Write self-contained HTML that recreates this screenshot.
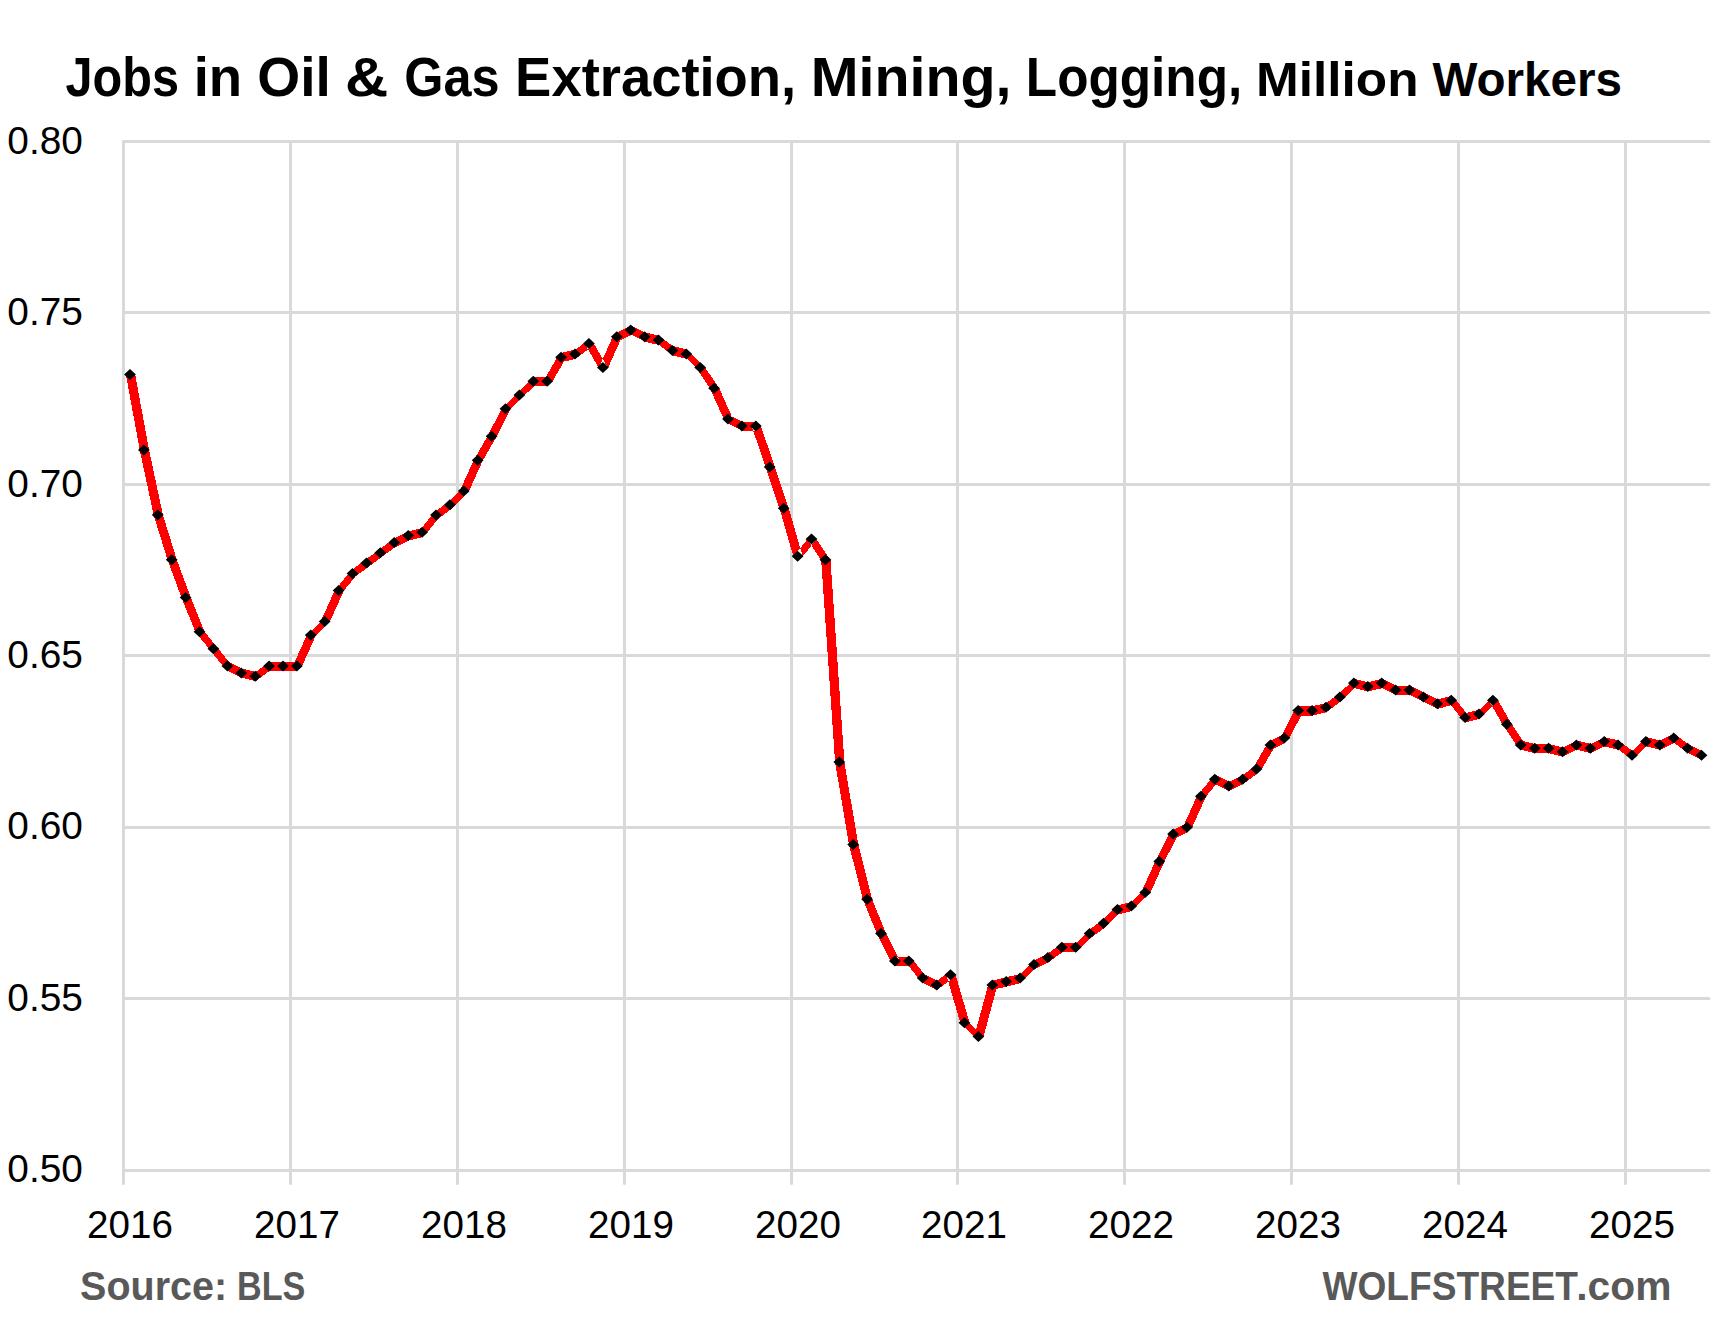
<!DOCTYPE html>
<html lang="en"><head><meta charset="utf-8"><title>Jobs in Oil &amp; Gas Extraction, Mining, Logging</title>
<style>
html,body{margin:0;padding:0;background:#fff;}
body{width:1720px;height:1335px;overflow:hidden;font-family:"Liberation Sans",sans-serif;}
svg{display:block;}
text{font-family:"Liberation Sans",sans-serif;}
.b{font-weight:bold;}
</style></head><body>
<svg width="1720" height="1335" viewBox="0 0 1720 1335">
<rect width="1720" height="1335" fill="#fff"/>
<g stroke="#d9d9d9" stroke-width="3" stroke-linecap="round" fill="none">
<line x1="123.5" y1="141.5" x2="1709" y2="141.5"/>
<line x1="123.5" y1="312.5" x2="1709" y2="312.5"/>
<line x1="123.5" y1="484.5" x2="1709" y2="484.5"/>
<line x1="123.5" y1="655.5" x2="1709" y2="655.5"/>
<line x1="123.5" y1="827.5" x2="1709" y2="827.5"/>
<line x1="123.5" y1="998.5" x2="1709" y2="998.5"/>
<line x1="123.5" y1="1170.5" x2="1709" y2="1170.5"/>
<line x1="123.5" y1="141.5" x2="123.5" y2="1183.5"/>
<line x1="290.5" y1="141.5" x2="290.5" y2="1183.5"/>
<line x1="457.5" y1="141.5" x2="457.5" y2="1183.5"/>
<line x1="624.5" y1="141.5" x2="624.5" y2="1183.5"/>
<line x1="791.5" y1="141.5" x2="791.5" y2="1183.5"/>
<line x1="957.5" y1="141.5" x2="957.5" y2="1183.5"/>
<line x1="1124.5" y1="141.5" x2="1124.5" y2="1183.5"/>
<line x1="1291.5" y1="141.5" x2="1291.5" y2="1183.5"/>
<line x1="1458.5" y1="141.5" x2="1458.5" y2="1183.5"/>
<line x1="1625.5" y1="141.5" x2="1625.5" y2="1183.5"/>
</g>
<path transform="translate(0.5,0.3)" d="M125.4,374.4L139.3,449.9L148.6,449.9L134.7,374.4ZM139.3,449.9L153.2,515.1L162.5,515.1L148.6,449.9ZM153.2,515.1L167.1,559.7L176.4,559.7L162.5,515.1ZM167.1,559.7L181.0,597.4L190.3,597.4L176.4,559.7ZM181.0,597.4L194.9,631.7L204.2,631.7L190.3,597.4ZM194.9,631.7L208.8,648.8L218.1,648.8L204.2,631.7ZM208.8,648.8L222.7,666.0L232.0,666.0L218.1,648.8ZM227.4,661.3L241.3,668.2L241.3,677.5L227.4,670.6ZM241.3,668.2L255.2,671.6L255.2,680.9L241.3,677.5ZM255.2,671.6L269.1,661.3L269.1,670.6L255.2,680.9ZM269.1,661.3L283.0,661.3L283.0,670.6L269.1,670.6ZM283.0,661.3L296.9,661.3L296.9,670.6L283.0,670.6ZM292.2,666.0L306.2,635.1L315.4,635.1L301.5,666.0ZM310.8,630.5L324.7,616.8L324.7,626.1L310.8,639.8ZM320.1,621.4L334.0,590.5L343.3,590.5L329.4,621.4ZM334.0,590.5L347.9,573.4L357.2,573.4L343.3,590.5ZM352.5,568.7L366.4,558.4L366.4,567.7L352.5,578.0ZM366.4,558.4L380.3,548.1L380.3,557.4L366.4,567.7ZM380.3,548.1L394.2,537.9L394.2,547.2L380.3,557.4ZM394.2,537.9L408.2,531.0L408.2,540.3L394.2,547.2ZM408.2,531.0L422.1,527.6L422.1,536.9L408.2,540.3ZM417.4,532.2L431.3,515.1L440.6,515.1L426.7,532.2ZM436.0,510.4L449.9,500.1L449.9,509.4L436.0,519.7ZM449.9,500.1L463.8,486.4L463.8,495.7L449.9,509.4ZM459.1,491.1L473.0,460.2L482.3,460.2L468.4,491.1ZM473.0,460.2L486.9,436.2L496.2,436.2L482.3,460.2ZM486.9,436.2L500.9,408.7L510.2,408.7L496.2,436.2ZM505.5,404.1L519.4,390.4L519.4,399.7L505.5,413.4ZM519.4,390.4L533.3,376.7L533.3,386.0L519.4,399.7ZM533.3,376.7L547.2,376.7L547.2,386.0L533.3,386.0ZM542.6,381.3L556.5,357.3L565.8,357.3L551.9,381.3ZM561.1,352.6L575.0,349.2L575.0,358.5L561.1,361.9ZM575.0,349.2L588.9,338.9L588.9,348.2L575.0,358.5ZM584.3,343.6L598.2,367.6L607.5,367.6L593.6,343.6ZM598.2,367.6L612.1,336.7L621.4,336.7L607.5,367.6ZM616.8,332.1L630.7,325.2L630.7,334.5L616.8,341.4ZM630.7,325.2L644.6,332.1L644.6,341.4L630.7,334.5ZM644.6,332.1L658.5,335.5L658.5,344.8L644.6,341.4ZM658.5,335.5L672.4,345.8L672.4,355.1L658.5,344.8ZM672.4,345.8L686.3,349.2L686.3,358.5L672.4,355.1ZM686.3,349.2L700.2,362.9L700.2,372.2L686.3,358.5ZM695.6,367.6L709.5,388.2L718.8,388.2L704.9,367.6ZM709.5,388.2L723.4,419.0L732.7,419.0L718.8,388.2ZM728.0,414.4L741.9,421.2L741.9,430.5L728.0,423.7ZM741.9,421.2L755.8,421.2L755.8,430.5L741.9,430.5ZM751.2,425.9L765.1,467.1L774.4,467.1L760.5,425.9ZM765.1,467.1L779.0,508.2L788.3,508.2L774.4,467.1ZM779.0,508.2L792.9,556.2L802.2,556.2L788.3,508.2ZM792.9,556.2L806.8,539.1L816.1,539.1L802.2,556.2ZM806.8,539.1L820.7,559.7L830.0,559.7L816.1,539.1ZM820.7,559.7L834.6,762.0L843.9,762.0L830.0,559.7ZM834.6,762.0L848.5,844.4L857.8,844.4L843.9,762.0ZM848.5,844.4L862.4,899.2L871.7,899.2L857.8,844.4ZM862.4,899.2L876.4,933.5L885.7,933.5L871.7,899.2ZM876.4,933.5L890.3,961.0L899.6,961.0L885.7,933.5ZM894.9,956.3L908.8,956.3L908.8,965.6L894.9,965.6ZM904.2,961.0L918.1,978.1L927.4,978.1L913.5,961.0ZM922.7,973.5L936.6,980.3L936.6,989.6L922.7,982.8ZM936.6,980.3L950.5,970.0L950.5,979.3L936.6,989.6ZM945.9,974.7L959.8,1022.7L969.1,1022.7L955.2,974.7ZM964.4,1018.1L978.4,1031.8L978.4,1041.1L964.4,1027.4ZM973.7,1036.4L987.6,985.0L996.9,985.0L983.0,1036.4ZM992.3,980.3L1006.2,976.9L1006.2,986.2L992.3,989.6ZM1006.2,976.9L1020.1,973.5L1020.1,982.8L1006.2,986.2ZM1020.1,973.5L1034.0,959.7L1034.0,969.0L1020.1,982.8ZM1034.0,959.7L1047.9,952.9L1047.9,962.2L1034.0,969.0ZM1047.9,952.9L1061.8,942.6L1061.8,951.9L1047.9,962.2ZM1061.8,942.6L1075.7,942.6L1075.7,951.9L1061.8,951.9ZM1075.7,942.6L1089.6,928.9L1089.6,938.2L1075.7,951.9ZM1089.6,928.9L1103.5,918.6L1103.5,927.9L1089.6,938.2ZM1103.5,918.6L1117.4,904.9L1117.4,914.2L1103.5,927.9ZM1117.4,904.9L1131.3,901.4L1131.3,910.7L1117.4,914.2ZM1131.3,901.4L1145.2,887.7L1145.2,897.0L1131.3,910.7ZM1140.6,892.4L1154.5,861.5L1163.8,861.5L1149.9,892.4ZM1154.5,861.5L1168.4,834.1L1177.7,834.1L1163.8,861.5ZM1173.1,829.4L1187.0,822.6L1187.0,831.9L1173.1,838.7ZM1182.3,827.2L1196.2,796.3L1205.5,796.3L1191.6,827.2ZM1196.2,796.3L1210.1,779.2L1219.4,779.2L1205.5,796.3ZM1214.8,774.5L1228.7,781.4L1228.7,790.7L1214.8,783.8ZM1228.7,781.4L1242.6,774.5L1242.6,783.8L1228.7,790.7ZM1242.6,774.5L1256.5,764.2L1256.5,773.5L1242.6,783.8ZM1251.9,768.9L1265.8,744.9L1275.1,744.9L1261.2,768.9ZM1270.4,740.2L1284.3,733.4L1284.3,742.7L1270.4,749.5ZM1279.7,738.0L1293.6,710.6L1302.9,710.6L1289.0,738.0ZM1298.2,705.9L1312.1,705.9L1312.1,715.2L1298.2,715.2ZM1312.1,705.9L1326.0,702.5L1326.0,711.8L1312.1,715.2ZM1326.0,702.5L1339.9,692.2L1339.9,701.5L1326.0,711.8ZM1339.9,692.2L1353.9,678.5L1353.9,687.8L1339.9,701.5ZM1353.9,678.5L1367.8,681.9L1367.8,691.2L1353.9,687.8ZM1367.8,681.9L1381.7,678.5L1381.7,687.8L1367.8,691.2ZM1381.7,678.5L1395.6,685.4L1395.6,694.7L1381.7,687.8ZM1395.6,685.4L1409.5,685.4L1409.5,694.7L1395.6,694.7ZM1409.5,685.4L1423.4,692.2L1423.4,701.5L1409.5,694.7ZM1423.4,692.2L1437.3,699.1L1437.3,708.4L1423.4,701.5ZM1437.3,699.1L1451.2,695.6L1451.2,704.9L1437.3,708.4ZM1446.6,700.3L1460.5,717.4L1469.8,717.4L1455.9,700.3ZM1465.1,712.8L1479.0,709.4L1479.0,718.7L1465.1,722.1ZM1479.0,709.4L1492.9,695.6L1492.9,704.9L1479.0,718.7ZM1488.3,700.3L1502.2,724.3L1511.5,724.3L1497.6,700.3ZM1502.2,724.3L1516.1,744.9L1525.4,744.9L1511.5,724.3ZM1520.7,740.2L1534.7,743.7L1534.7,753.0L1520.7,749.5ZM1534.7,743.7L1548.6,743.7L1548.6,753.0L1534.7,753.0ZM1548.6,743.7L1562.5,747.1L1562.5,756.4L1548.6,753.0ZM1562.5,747.1L1576.4,740.2L1576.4,749.5L1562.5,756.4ZM1576.4,740.2L1590.3,743.7L1590.3,753.0L1576.4,749.5ZM1590.3,743.7L1604.2,736.8L1604.2,746.1L1590.3,753.0ZM1604.2,736.8L1618.1,740.2L1618.1,749.5L1604.2,746.1ZM1618.1,740.2L1632.0,750.5L1632.0,759.8L1618.1,749.5ZM1632.0,750.5L1645.9,736.8L1645.9,746.1L1632.0,759.8ZM1645.9,736.8L1659.8,740.2L1659.8,749.5L1645.9,746.1ZM1659.8,740.2L1673.7,733.4L1673.7,742.7L1659.8,749.5ZM1673.7,733.4L1687.6,743.7L1687.6,753.0L1673.7,742.7ZM1687.6,743.7L1701.5,750.5L1701.5,759.8L1687.6,753.0Z" fill="#ff0000" shape-rendering="crispEdges"/>
<path d="M124.1,374.4L130.0,368.9L135.9,374.4L130.0,379.9ZM138.0,449.9L143.9,444.4L149.8,449.9L143.9,455.4ZM151.9,515.1L157.8,509.6L163.7,515.1L157.8,520.6ZM165.8,559.7L171.7,554.2L177.6,559.7L171.7,565.2ZM179.7,597.4L185.6,591.9L191.5,597.4L185.6,602.9ZM193.6,631.7L199.5,626.2L205.4,631.7L199.5,637.2ZM207.5,648.8L213.4,643.3L219.3,648.8L213.4,654.3ZM221.5,666.0L227.4,660.5L233.3,666.0L227.4,671.5ZM235.4,672.9L241.3,667.4L247.2,672.9L241.3,678.4ZM249.3,676.3L255.2,670.8L261.1,676.3L255.2,681.8ZM263.2,666.0L269.1,660.5L275.0,666.0L269.1,671.5ZM277.1,666.0L283.0,660.5L288.9,666.0L283.0,671.5ZM291.0,666.0L296.9,660.5L302.8,666.0L296.9,671.5ZM304.9,635.1L310.8,629.6L316.7,635.1L310.8,640.6ZM318.8,621.4L324.7,615.9L330.6,621.4L324.7,626.9ZM332.7,590.5L338.6,585.0L344.5,590.5L338.6,596.0ZM346.6,573.4L352.5,567.9L358.4,573.4L352.5,578.9ZM360.5,563.1L366.4,557.6L372.3,563.1L366.4,568.6ZM374.4,552.8L380.3,547.3L386.2,552.8L380.3,558.3ZM388.3,542.5L394.2,537.0L400.1,542.5L394.2,548.0ZM402.3,535.6L408.2,530.1L414.1,535.6L408.2,541.1ZM416.2,532.2L422.1,526.7L428.0,532.2L422.1,537.7ZM430.1,515.1L436.0,509.6L441.9,515.1L436.0,520.6ZM444.0,504.8L449.9,499.3L455.8,504.8L449.9,510.3ZM457.9,491.1L463.8,485.6L469.7,491.1L463.8,496.6ZM471.8,460.2L477.7,454.7L483.6,460.2L477.7,465.7ZM485.7,436.2L491.6,430.7L497.5,436.2L491.6,441.7ZM499.6,408.7L505.5,403.2L511.4,408.7L505.5,414.2ZM513.5,395.0L519.4,389.5L525.3,395.0L519.4,400.5ZM527.4,381.3L533.3,375.8L539.2,381.3L533.3,386.8ZM541.3,381.3L547.2,375.8L553.1,381.3L547.2,386.8ZM555.2,357.3L561.1,351.8L567.0,357.3L561.1,362.8ZM569.1,353.9L575.0,348.4L580.9,353.9L575.0,359.4ZM583.0,343.6L588.9,338.1L594.8,343.6L588.9,349.1ZM597.0,367.6L602.9,362.1L608.8,367.6L602.9,373.1ZM610.9,336.7L616.8,331.2L622.7,336.7L616.8,342.2ZM624.8,329.9L630.7,324.4L636.6,329.9L630.7,335.4ZM638.7,336.7L644.6,331.2L650.5,336.7L644.6,342.2ZM652.6,340.1L658.5,334.6L664.4,340.1L658.5,345.6ZM666.5,350.4L672.4,344.9L678.3,350.4L672.4,355.9ZM680.4,353.9L686.3,348.4L692.2,353.9L686.3,359.4ZM694.3,367.6L700.2,362.1L706.1,367.6L700.2,373.1ZM708.2,388.2L714.1,382.7L720.0,388.2L714.1,393.7ZM722.1,419.0L728.0,413.5L733.9,419.0L728.0,424.5ZM736.0,425.9L741.9,420.4L747.8,425.9L741.9,431.4ZM749.9,425.9L755.8,420.4L761.7,425.9L755.8,431.4ZM763.8,467.1L769.7,461.6L775.6,467.1L769.7,472.6ZM777.8,508.2L783.7,502.7L789.6,508.2L783.7,513.7ZM791.7,556.2L797.6,550.7L803.5,556.2L797.6,561.7ZM805.6,539.1L811.5,533.6L817.4,539.1L811.5,544.6ZM819.5,559.7L825.4,554.2L831.3,559.7L825.4,565.2ZM833.4,762.0L839.3,756.5L845.2,762.0L839.3,767.5ZM847.3,844.4L853.2,838.9L859.1,844.4L853.2,849.9ZM861.2,899.2L867.1,893.7L873.0,899.2L867.1,904.7ZM875.1,933.5L881.0,928.0L886.9,933.5L881.0,939.0ZM889.0,961.0L894.9,955.5L900.8,961.0L894.9,966.5ZM902.9,961.0L908.8,955.5L914.7,961.0L908.8,966.5ZM916.8,978.1L922.7,972.6L928.6,978.1L922.7,983.6ZM930.7,985.0L936.6,979.5L942.5,985.0L936.6,990.5ZM944.6,974.7L950.5,969.2L956.4,974.7L950.5,980.2ZM958.5,1022.7L964.4,1017.2L970.3,1022.7L964.4,1028.2ZM972.5,1036.4L978.4,1030.9L984.3,1036.4L978.4,1041.9ZM986.4,985.0L992.3,979.5L998.2,985.0L992.3,990.5ZM1000.3,981.5L1006.2,976.0L1012.1,981.5L1006.2,987.0ZM1014.2,978.1L1020.1,972.6L1026.0,978.1L1020.1,983.6ZM1028.1,964.4L1034.0,958.9L1039.9,964.4L1034.0,969.9ZM1042.0,957.5L1047.9,952.0L1053.8,957.5L1047.9,963.0ZM1055.9,947.3L1061.8,941.8L1067.7,947.3L1061.8,952.8ZM1069.8,947.3L1075.7,941.8L1081.6,947.3L1075.7,952.8ZM1083.7,933.5L1089.6,928.0L1095.5,933.5L1089.6,939.0ZM1097.6,923.2L1103.5,917.7L1109.4,923.2L1103.5,928.7ZM1111.5,909.5L1117.4,904.0L1123.3,909.5L1117.4,915.0ZM1125.4,906.1L1131.3,900.6L1137.2,906.1L1131.3,911.6ZM1139.3,892.4L1145.2,886.9L1151.1,892.4L1145.2,897.9ZM1153.3,861.5L1159.2,856.0L1165.1,861.5L1159.2,867.0ZM1167.2,834.1L1173.1,828.6L1179.0,834.1L1173.1,839.6ZM1181.1,827.2L1187.0,821.7L1192.9,827.2L1187.0,832.7ZM1195.0,796.3L1200.9,790.8L1206.8,796.3L1200.9,801.8ZM1208.9,779.2L1214.8,773.7L1220.7,779.2L1214.8,784.7ZM1222.8,786.0L1228.7,780.5L1234.6,786.0L1228.7,791.5ZM1236.7,779.2L1242.6,773.7L1248.5,779.2L1242.6,784.7ZM1250.6,768.9L1256.5,763.4L1262.4,768.9L1256.5,774.4ZM1264.5,744.9L1270.4,739.4L1276.3,744.9L1270.4,750.4ZM1278.4,738.0L1284.3,732.5L1290.2,738.0L1284.3,743.5ZM1292.3,710.6L1298.2,705.1L1304.1,710.6L1298.2,716.1ZM1306.2,710.6L1312.1,705.1L1318.0,710.6L1312.1,716.1ZM1320.1,707.2L1326.0,701.7L1331.9,707.2L1326.0,712.7ZM1334.0,696.9L1339.9,691.4L1345.8,696.9L1339.9,702.4ZM1348.0,683.1L1353.9,677.6L1359.8,683.1L1353.9,688.6ZM1361.9,686.6L1367.8,681.1L1373.7,686.6L1367.8,692.1ZM1375.8,683.1L1381.7,677.6L1387.6,683.1L1381.7,688.6ZM1389.7,690.0L1395.6,684.5L1401.5,690.0L1395.6,695.5ZM1403.6,690.0L1409.5,684.5L1415.4,690.0L1409.5,695.5ZM1417.5,696.9L1423.4,691.4L1429.3,696.9L1423.4,702.4ZM1431.4,703.7L1437.3,698.2L1443.2,703.7L1437.3,709.2ZM1445.3,700.3L1451.2,694.8L1457.1,700.3L1451.2,705.8ZM1459.2,717.4L1465.1,711.9L1471.0,717.4L1465.1,722.9ZM1473.1,714.0L1479.0,708.5L1484.9,714.0L1479.0,719.5ZM1487.0,700.3L1492.9,694.8L1498.8,700.3L1492.9,705.8ZM1500.9,724.3L1506.8,718.8L1512.7,724.3L1506.8,729.8ZM1514.8,744.9L1520.7,739.4L1526.6,744.9L1520.7,750.4ZM1528.8,748.3L1534.7,742.8L1540.6,748.3L1534.7,753.8ZM1542.7,748.3L1548.6,742.8L1554.5,748.3L1548.6,753.8ZM1556.6,751.7L1562.5,746.2L1568.4,751.7L1562.5,757.2ZM1570.5,744.9L1576.4,739.4L1582.3,744.9L1576.4,750.4ZM1584.4,748.3L1590.3,742.8L1596.2,748.3L1590.3,753.8ZM1598.3,741.5L1604.2,736.0L1610.1,741.5L1604.2,747.0ZM1612.2,744.9L1618.1,739.4L1624.0,744.9L1618.1,750.4ZM1626.1,755.2L1632.0,749.7L1637.9,755.2L1632.0,760.7ZM1640.0,741.5L1645.9,736.0L1651.8,741.5L1645.9,747.0ZM1653.9,744.9L1659.8,739.4L1665.7,744.9L1659.8,750.4ZM1667.8,738.0L1673.7,732.5L1679.6,738.0L1673.7,743.5ZM1681.7,748.3L1687.6,742.8L1693.5,748.3L1687.6,753.8ZM1695.6,755.2L1701.5,749.7L1707.4,755.2L1701.5,760.7Z" fill="#000"/>
<text class="b" y="95.60" font-size="56.40" fill="#000"><tspan x="65.44" textLength="113.54" lengthAdjust="spacingAndGlyphs">Jobs</tspan> <tspan x="193.68" textLength="48.44" lengthAdjust="spacingAndGlyphs">in</tspan> <tspan x="257.29" textLength="73.58" lengthAdjust="spacingAndGlyphs">Oil</tspan> <tspan x="344.90" textLength="43.28" lengthAdjust="spacingAndGlyphs">&amp;</tspan> <tspan x="404.23" textLength="95.29" lengthAdjust="spacingAndGlyphs">Gas</tspan> <tspan x="515.12" textLength="281.07" lengthAdjust="spacingAndGlyphs">Extraction,</tspan> <tspan x="810.67" textLength="200.78" lengthAdjust="spacingAndGlyphs">Mining,</tspan> <tspan x="1025.83" textLength="216.37" lengthAdjust="spacingAndGlyphs">Logging,</tspan> <tspan x="1256.08" font-size="47.80" textLength="162.46" lengthAdjust="spacingAndGlyphs">Million</tspan> <tspan x="1432.50" font-size="47.80" textLength="189.40" lengthAdjust="spacingAndGlyphs">Workers</tspan></text>
<text transform="translate(82.93,153.90) scale(0.9890,1)" text-anchor="end" font-size="39.29" fill="#000">0.80</text>
<text transform="translate(82.93,325.23) scale(0.9890,1)" text-anchor="end" font-size="39.29" fill="#000">0.75</text>
<text transform="translate(82.93,496.56) scale(0.9890,1)" text-anchor="end" font-size="39.29" fill="#000">0.70</text>
<text transform="translate(82.93,667.89) scale(0.9890,1)" text-anchor="end" font-size="39.29" fill="#000">0.65</text>
<text transform="translate(82.93,839.22) scale(0.9890,1)" text-anchor="end" font-size="39.29" fill="#000">0.60</text>
<text transform="translate(82.93,1010.55) scale(0.9890,1)" text-anchor="end" font-size="39.29" fill="#000">0.55</text>
<text transform="translate(82.93,1181.88) scale(0.9890,1)" text-anchor="end" font-size="39.29" fill="#000">0.50</text>
<text transform="translate(130.05,1237.70) scale(0.9830,1)" text-anchor="middle" font-size="39.29" fill="#000">2016</text>
<text transform="translate(297.05,1237.70) scale(0.9830,1)" text-anchor="middle" font-size="39.29" fill="#000">2017</text>
<text transform="translate(464.05,1237.70) scale(0.9830,1)" text-anchor="middle" font-size="39.29" fill="#000">2018</text>
<text transform="translate(631.05,1237.70) scale(0.9830,1)" text-anchor="middle" font-size="39.29" fill="#000">2019</text>
<text transform="translate(798.05,1237.70) scale(0.9830,1)" text-anchor="middle" font-size="39.29" fill="#000">2020</text>
<text transform="translate(964.05,1237.70) scale(0.9830,1)" text-anchor="middle" font-size="39.29" fill="#000">2021</text>
<text transform="translate(1131.05,1237.70) scale(0.9830,1)" text-anchor="middle" font-size="39.29" fill="#000">2022</text>
<text transform="translate(1298.05,1237.70) scale(0.9830,1)" text-anchor="middle" font-size="39.29" fill="#000">2023</text>
<text transform="translate(1465.05,1237.70) scale(0.9830,1)" text-anchor="middle" font-size="39.29" fill="#000">2024</text>
<text transform="translate(1632.05,1237.70) scale(0.9830,1)" text-anchor="middle" font-size="39.29" fill="#000">2025</text>
<text class="b" y="1300.40" font-size="41.31" fill="#595959"><tspan x="80.12" font-size="40.20" textLength="146.99" lengthAdjust="spacingAndGlyphs">Source:</tspan> <tspan x="237.02" textLength="68.35" lengthAdjust="spacingAndGlyphs">BLS</tspan></text>
<text class="b" y="1300.40" font-size="41.31" fill="#595959"><tspan x="1322.50" textLength="255.53" lengthAdjust="spacingAndGlyphs">WOLFSTREET</tspan><tspan x="1576.28" font-size="39.80" textLength="95.23" lengthAdjust="spacingAndGlyphs">.com</tspan></text>
</svg>
</body></html>
